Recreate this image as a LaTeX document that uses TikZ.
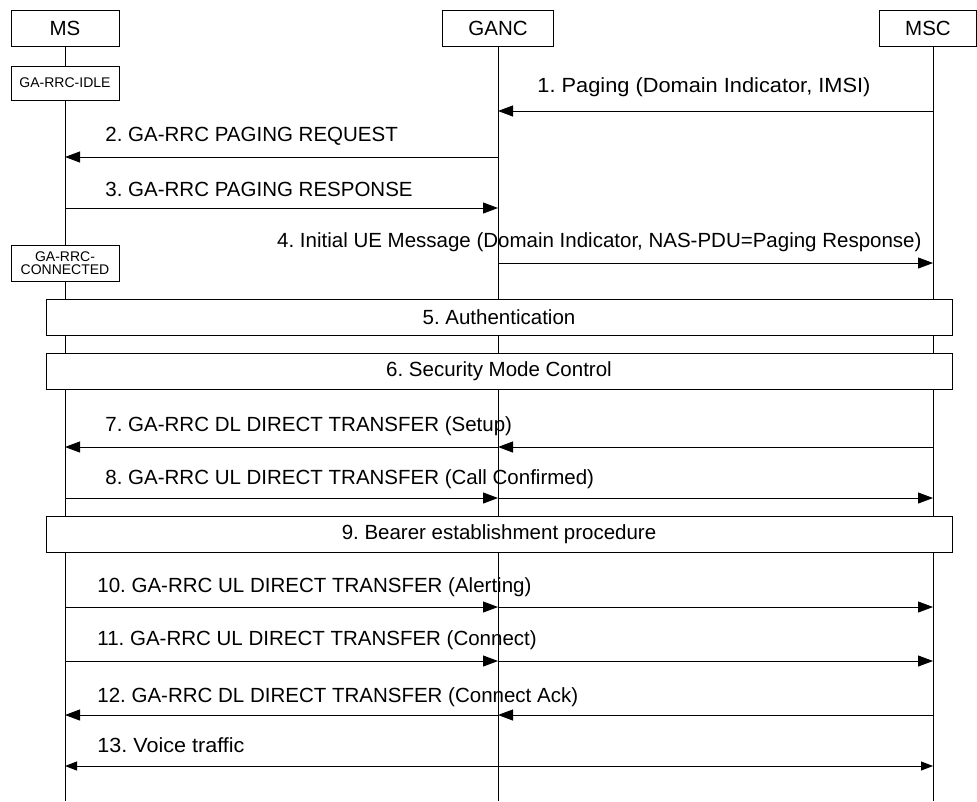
\documentclass[tikz,border=0pt]{standalone}
\usepackage{fontspec}
\usepackage{graphicx}
\setmainfont{Liberation Sans}
\frenchspacing
\usetikzlibrary{arrows.meta}
\begin{document}
\begin{tikzpicture}[x=1pt,y=-1pt,
  font=\fontsize{20.5}{24}\selectfont,
  line width=0.9pt,
  hdr/.style={draw,fill=white,minimum height=36pt,inner sep=0pt},
  state/.style={draw,fill=white,inner sep=0pt,minimum width=108pt,font=\fontsize{14}{15}\selectfont,align=center},
  proc/.style={draw,fill=white,inner sep=0pt,minimum width=906pt,minimum height=36pt},
  lbl/.style={anchor=west,inner sep=0pt},
  msg/.style={-{Triangle[length=15pt,width=11pt]}},
  life/.style={line width=0.9pt}]
\useasboundingbox (0,0) rectangle (977,801);
% headers
\node[hdr,minimum width=108pt] (MS) at (65,28) {MS};
\node[hdr,minimum width=111pt] (GANC) at (498,28) {GANC};
\node[hdr,minimum width=97pt] (MSC) at (928,28) {MSC};
\coordinate (msend) at (65,801);
\coordinate (gancend) at (498,801);
\coordinate (mscend) at (933,801);
\draw[life] (MS.south) -- (msend);
\draw[life] (GANC.south) -- (gancend);
\draw[life] (MSC.south -| mscend) -- (mscend);
% states
\node[state,minimum height=34pt] (idle) at (65,83) {GA-RRC-IDLE};
\node[state,minimum height=36pt] (conn) at (65,263) {GA-RRC-\\[-2pt]CONNECTED};
% lifeline points
\foreach \n/\y in {1/111,2/157,3/208,4/263,7/447,8/498,10/607,11/661,12/715,13/766}{
  \coordinate (ms\n) at (65,\y);
  \coordinate (ga\n) at (498,\y);
  \coordinate (mc\n) at (933,\y);
}
% 1
\node[lbl] (l1) at (537,87) {\resizebox{333pt}{\height}{1. Paging (Domain Indicator, IMSI)}};
\draw[msg] (mc1) -- (ga1);
% 2
\node[lbl] (l2) at (105,136) {2. GA-RRC PAGING REQUEST};
\draw[msg] (ga2) -- (ms2);
% 3
\node[lbl] (l3) at (105,189) {3. GA-RRC PAGING RESPONSE};
\draw[msg] (ms3) -- (ga3);
% 4
\node[lbl,anchor=east] (l4) at (922,242) {4. Initial UE Message (Domain Indicator, NAS-PDU=Paging Response)};
\draw[msg] (ga4) -- (mc4);
% 5,6
\node[proc] (auth) at (499,317) {5. Authentication};
\node[proc] (sec) at (499,371) {6. Security Mode Control};
% 7
\node[lbl] (l7) at (105,426) {7. GA-RRC DL DIRECT TRANSFER (Setup)};
\draw[msg] (mc7) -- (ga7);
\draw[msg] (ga7) -- (ms7);
% 8
\node[lbl] (l8) at (105,479) {8. GA-RRC UL DIRECT TRANSFER (Call Confirmed)};
\draw[msg] (ms8) -- (ga8);
\draw[msg] (ga8) -- (mc8);
% 9
\node[proc] (bearer) at (499,534) {9. Bearer establishment procedure};
% 10
\node[lbl] (l10) at (97,587) {10. GA-RRC UL DIRECT TRANSFER (Alerting)};
\draw[msg] (ms10) -- (ga10);
\draw[msg] (ga10) -- (mc10);
% 11
\node[lbl] (l11) at (97,640) {11. GA-RRC UL DIRECT TRANSFER (Connect)};
\draw[msg] (ms11) -- (ga11);
\draw[msg] (ga11) -- (mc11);
% 12
\node[lbl] (l12) at (97,697) {12. GA-RRC DL DIRECT TRANSFER (Connect Ack)};
\draw[msg] (mc12) -- (ga12);
\draw[msg] (ga12) -- (ms12);
% 13
\node[lbl] (l13) at (97,745) {\resizebox{147pt}{\height}{13. Voice traffic}};
\draw[{Triangle[length=12pt,width=9pt]}-{Triangle[length=12pt,width=9pt]}] (ms13) -- (mc13);
\end{tikzpicture}
\end{document}
